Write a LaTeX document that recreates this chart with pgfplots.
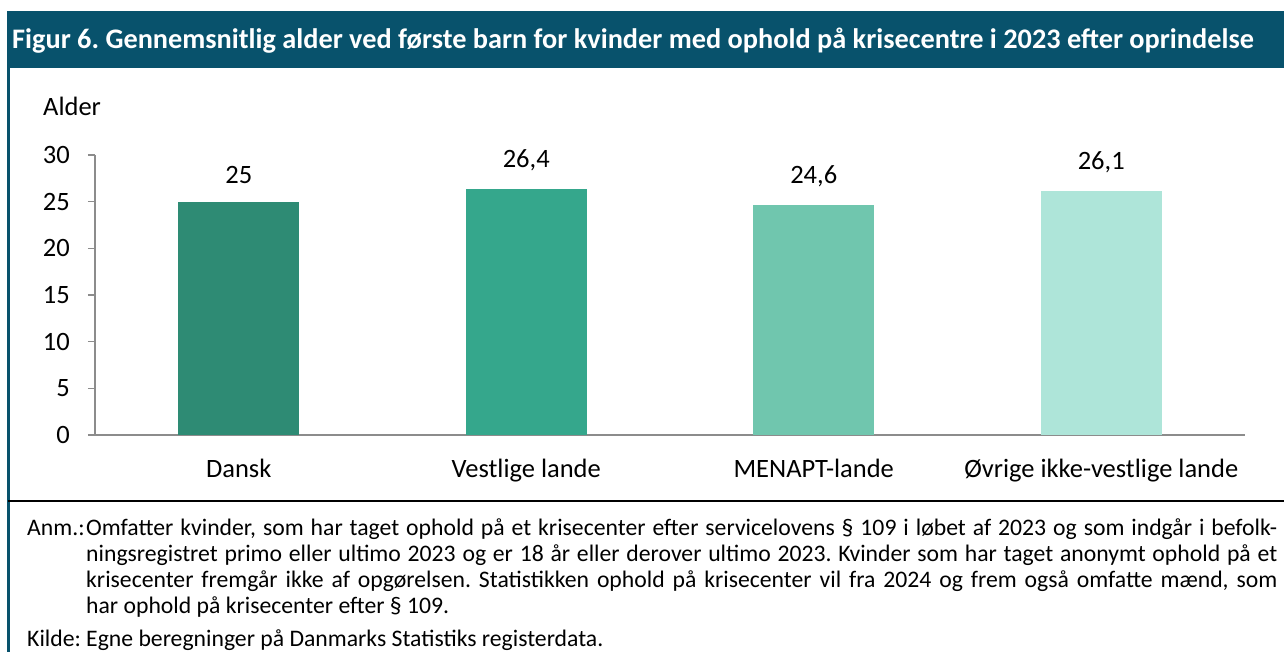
\documentclass[border=0pt]{standalone}
\usepackage{fontspec}
\setmainfont{Carlito}
\usepackage{pgfplots}
\pgfplotsset{compat=1.18}

\definecolor{titlebar}{RGB}{8,82,108}
\definecolor{axisgray}{RGB}{140,140,140}
\definecolor{barA}{RGB}{46,139,116}
\definecolor{barB}{RGB}{53,167,140}
\definecolor{barC}{RGB}{112,198,174}
\definecolor{barD}{RGB}{174,229,217}

\newcommand\axisfont{\fontsize{26.5}{30}\selectfont}
\newcommand\notefont{\fontsize{23.7}{26}\selectfont}

\begin{document}
\frenchspacing
\begin{tikzpicture}[x=1pt,y=1pt]
\begin{axis}[
    scale only axis, width=1150pt, height=280pt,
    xmin=-0.5, xmax=3.5, ymin=0, ymax=30,
    axis x line=bottom, axis y line=left,
    axis line style={draw=axisgray, line width=1.5pt, -},
    xtick={0,1,2,3},
    xticklabels={Dansk, Vestlige lande, MENAPT-lande, Øvrige ikke-vestlige lande},
    ytick={0,5,...,30},
    tick align=outside, major tick length=7pt,
    x tick style={draw=none},
    y tick style={draw=axisgray, line width=1.5pt},
    tick label style={font=\axisfont, inner sep=0pt},
    yticklabel style={anchor=east, xshift=-18pt},
    xticklabel style={anchor=base, yshift=-35pt},
    /pgf/number format/assume math mode=true,
    /pgf/number format/use comma,
    nodes near coords,
    every node near coord/.append style={font=\axisfont, inner sep=0pt, anchor=south, yshift=18pt, text=black},
    clip=false,
]
\addplot[ybar, bar width=121pt, bar shift=0pt, fill=barA, draw=none] coordinates {(0,25)};
\addplot[ybar, bar width=121pt, bar shift=0pt, fill=barB, draw=none] coordinates {(1,26.4)};
\addplot[ybar, bar width=121pt, bar shift=0pt, fill=barC, draw=none] coordinates {(2,24.6)};
\addplot[ybar, bar width=121pt, bar shift=0pt, fill=barD, draw=none] coordinates {(3,26.1)};
\coordinate (O) at (axis cs:-0.5,0);
\end{axis}
\pgfresetboundingbox
% page coordinates: 1pt = 1px, axis corner at (95,216)
\begin{scope}[shift={(O)}, shift={(-95,-216)}]
\path[use as bounding box] (0,0) rectangle (1284,651);
% title bar and frame
\fill[titlebar] (7,583) rectangle (1284,640);
\node[anchor=base west, inner sep=0pt, text=white, font=\fontsize{28.3}{32}\selectfont\bfseries]
  at (12,602.5) {Figur 6. Gennemsnitlig alder ved første barn for kvinder med ophold på krisecentre i 2023 efter oprindelse};
\draw[titlebar, line width=3pt] (8.5,583) -- (8.5,-10);
\draw[black, line width=2pt] (8,150) -- (1290,150);

\node[anchor=base west, inner sep=0pt, font=\axisfont] at (43,535) {Alder};

% notes
\begin{scope}[every node/.style={anchor=base west, inner sep=0pt, font=\notefont}]
\node at (27,116) {Anm.:};
\node at (86,116) {\makebox[1191pt][s]{Omfatter kvinder, som har taget ophold på et krisecenter efter servicelovens § 109 i løbet af 2023 og som indgår i befolk-}};
\node at (86,90) {\makebox[1191pt][s]{ningsregistret primo eller ultimo 2023 og er 18 år eller derover ultimo 2023. Kvinder som har taget anonymt ophold på et}};
\node at (86,64) {\makebox[1191pt][s]{krisecenter fremgår ikke af opgørelsen. Statistikken ophold på krisecenter vil fra 2024 og frem også omfatte mænd, som}};
\node at (86,38) {har ophold på krisecenter efter § 109.};
\node at (27,5) {Kilde:};
\node at (86,5) {Egne beregninger på Danmarks Statistiks registerdata.};
\end{scope}
\end{scope}
\end{tikzpicture}
\end{document}
